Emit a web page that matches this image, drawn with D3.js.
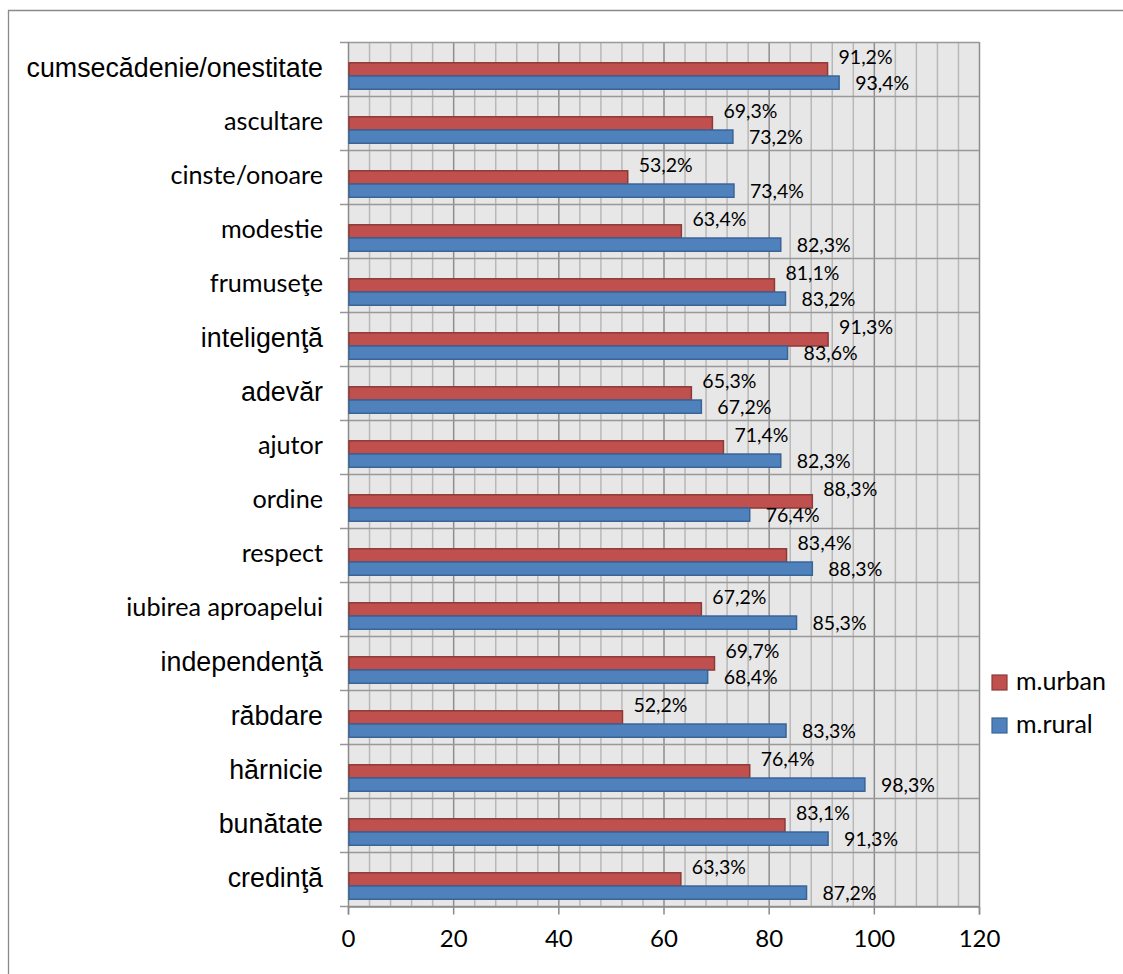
<!DOCTYPE html>
<html>
<head>
<meta charset="utf-8">
<script src="https://cdn.jsdelivr.net/npm/d3@7"></script>
<style>
  html, body { margin: 0; padding: 0; background: #fff; }
  svg { display: block; }
</style>
</head>
<body>
<svg id="chart" width="1123" height="974"></svg>
<script>
// ---- data ----
const categories = [
  "cumsecădenie/onestitate", "ascultare", "cinste/onoare", "modestie",
  "frumuseţe", "inteligenţă", "adevăr", "ajutor", "ordine", "respect",
  "iubirea aproapelui", "independenţă", "răbdare", "hărnicie", "bunătate", "credinţă"
];
const seriesNames = ["m.urban", "m.rural"];
const urbanValues = [91.2, 69.3, 53.2, 63.4, 81.1, 91.3, 65.3, 71.4, 88.3, 83.4, 67.2, 69.7, 52.2, 76.4, 83.1, 63.3];
const ruralValues = [93.4, 73.2, 73.4, 82.3, 83.2, 83.6, 67.2, 82.3, 76.4, 88.3, 85.3, 68.4, 83.3, 98.3, 91.3, 87.2];
const xTicks = [0, 20, 40, 60, 80, 100, 120];

// ---- styles ----
const arialLabels = new Set(["cumsecădenie/onestitate", "inteligenţă", "adevăr", "independenţă", "răbdare", "hărnicie", "bunătate", "credinţă"]);
const colors = { "m.urban": "#C0504D", "m.rural": "#4F81BD" };
const strokes = { "m.urban": "#8C3A38", "m.rural": "#3A6496" };
const calibri = "Lato, 'Open Sans', sans-serif";
const arial = "'Liberation Sans', Arial, sans-serif";

const svg = d3.select("#chart");
const margin = { left: 348, top: 42, right: 979, bottom: 906 };

// outer frame
svg.append("line").attr("x1", 8).attr("x2", 1123).attr("y1", 10.5).attr("y2", 10.5).attr("stroke", "#8a8a8a").attr("stroke-width", 1.3);
svg.append("line").attr("x1", 8.5).attr("x2", 8.5).attr("y1", 10).attr("y2", 974).attr("stroke", "#8a8a8a").attr("stroke-width", 1.3);

const x = d3.scaleLinear().domain([0, 120]).range([margin.left, margin.right]);
const y = d3.scaleBand().domain(categories).range([margin.top, margin.bottom]);
const bw = y.bandwidth();
const ySub = d3.scaleBand().domain(seriesNames).range([bw * 0.385, bw * 0.875]);

// plot background
svg.append("rect").attr("x", x(0)).attr("y", margin.top).attr("width", x(120) - x(0)).attr("height", margin.bottom - margin.top).attr("fill", "#E7E7E7");

// minor vertical gridlines
const minor = d3.range(4, 120, 4).filter(v => v % 20 !== 0);
svg.append("g").selectAll("line").data(minor).join("line")
  .attr("x1", d => x(d) + 0.5).attr("x2", d => x(d) + 0.5)
  .attr("y1", margin.top).attr("y2", margin.bottom)
  .attr("stroke", "#B8B8B8").attr("stroke-width", 1.5);
// major vertical gridlines
svg.append("g").selectAll("line").data(xTicks.filter(v => v > 0)).join("line")
  .attr("x1", d => x(d) + 0.5).attr("x2", d => x(d) + 0.5)
  .attr("y1", margin.top).attr("y2", margin.bottom)
  .attr("stroke", "#8E8E8E").attr("stroke-width", 1.5);
// horizontal category gridlines
const bounds = categories.map(c => y(c)).concat([margin.bottom]);
svg.append("g").selectAll("line").data(bounds).join("line")
  .attr("x1", x(0) - 8).attr("x2", x(120))
  .attr("y1", d => d + 0.5).attr("y2", d => d + 0.5)
  .attr("stroke", "#999").attr("stroke-width", 1.5);

// left axis line
svg.append("line").attr("x1", x(0) + 0.5).attr("x2", x(0) + 0.5).attr("y1", margin.top).attr("y2", margin.bottom)
  .attr("stroke", "#8a8a8a").attr("stroke-width", 1.5);

// bottom axis
const xAxis = d3.axisBottom(x).tickValues(xTicks).tickSize(8).tickPadding(15).tickFormat(d3.format("d"));
const gx = svg.append("g").attr("transform", `translate(0,${margin.bottom + 0.5})`).call(xAxis);
gx.select(".domain").attr("stroke", "#8a8a8a").attr("stroke-width", 1.5);
gx.selectAll(".tick line").attr("stroke", "#8a8a8a").attr("stroke-width", 1.5);
gx.selectAll(".tick text").attr("font-family", calibri).attr("font-size", 24).attr("fill", "#000");

// category labels
svg.append("g").selectAll("text").data(categories).join("text")
  .attr("x", 323)
  .attr("y", d => y(d) + bw / 2 + 1)
  .attr("text-anchor", "end")
  .attr("dominant-baseline", "middle")
  .attr("font-family", d => arialLabels.has(d) ? arial : calibri)
  .attr("font-size", d => arialLabels.has(d) ? 26.8 : 25.2)
  .attr("fill", "#000")
  .text(d => d);

// bars
const rows = [];
categories.forEach((c, i) => {
  rows.push({ cat: c, s: "m.urban", v: urbanValues[i] });
  rows.push({ cat: c, s: "m.rural", v: ruralValues[i] });
});

svg.append("g").selectAll("rect").data(rows).join("rect")
  .attr("x", x(0) + 1)
  .attr("y", d => y(d.cat) + ySub(d.s))
  .attr("width", d => x(d.v) - x(0) - 1)
  .attr("height", ySub.bandwidth())
  .attr("fill", d => colors[d.s])
  .attr("stroke", d => strokes[d.s])
  .attr("stroke-width", 1.5);

// data labels
const fmt = v => v.toFixed(1).replace(".", ",") + "%";
svg.append("g").selectAll("text").data(rows).join("text")
  .attr("x", d => x(d.v) + (d.s === "m.urban" ? 11 : 16))
  .attr("y", d => d.s === "m.urban" ? y(d.cat) + ySub(d.s) - 4 : y(d.cat) + ySub(d.s) + ySub.bandwidth() / 2 + 2)
  .attr("dominant-baseline", "middle")
  .attr("font-family", calibri)
  .attr("font-size", 19.5)
  .attr("fill", "#000")
  .text(d => fmt(d.v));

// legend
const lg = svg.append("g").selectAll("g").data(seriesNames).join("g")
  .attr("transform", (d, i) => `translate(992,${675 + i * 43})`);
lg.append("rect").attr("width", 15).attr("height", 15)
  .attr("fill", d => colors[d]).attr("stroke", d => strokes[d]).attr("stroke-width", 1.2);
lg.append("text").attr("x", 24).attr("y", 8.5)
  .attr("dominant-baseline", "middle")
  .attr("font-family", calibri).attr("font-size", 25).attr("fill", "#000")
  .text(d => d);
</script>
</body>
</html>
